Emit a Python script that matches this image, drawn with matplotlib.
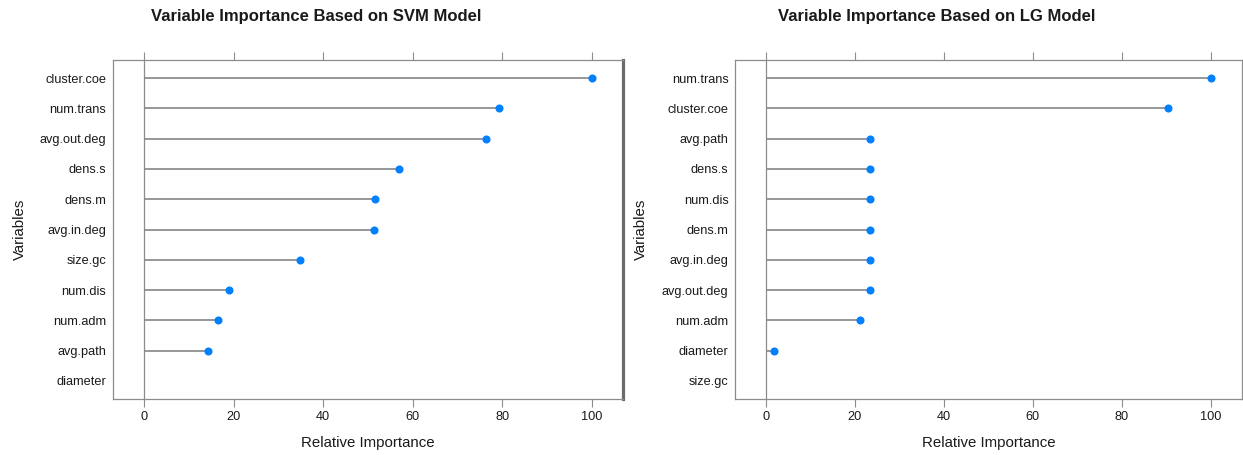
import numpy as np
import matplotlib
matplotlib.use("Agg")
import matplotlib.pyplot as plt

plt.rcParams['font.family'] = ['Liberation Sans', 'DejaVu Sans']

# Variable importance scores, listed top to bottom as displayed
svm_vars = ["cluster.coe", "num.trans", "avg.out.deg", "dens.s", "dens.m",
            "avg.in.deg", "size.gc", "num.dis", "num.adm", "avg.path", "diameter"]
svm_imp = [100.0, 79.2, 76.3, 56.9, 51.5, 51.3, 34.8, 19.0, 16.5, 14.3, np.nan]

lg_vars = ["num.trans", "cluster.coe", "avg.path", "dens.s", "num.dis", "dens.m",
           "avg.in.deg", "avg.out.deg", "num.adm", "diameter", "size.gc"]
lg_imp = [100.0, 90.4, 23.4, 23.4, 23.4, 23.4, 23.4, 23.4, 21.2, 1.9, np.nan]

x_ticks = [0, 20, 40, 60, 80, 100]

W, H = 1243, 455
fig = plt.figure(figsize=(W / 100, H / 100), dpi=100)

BOX = "#8c8c8c"
SEG = "#858585"
DOT = "#0080ff"
TXT = "#1a1a1a"


def px_axes(x0, x1, y0, y1):
    return fig.add_axes([x0 / W, 1 - y1 / H, (x1 - x0) / W, (y1 - y0) / H])


def dotplot(ax, names, values):
    n = len(names)
    ypos = np.arange(n, 0, -1)
    vals = np.asarray(values, dtype=float)
    ax.axvline(0, color=BOX, lw=0.9, zorder=1)
    for y, v in zip(ypos, vals):
        if np.isfinite(v):
            ax.plot([0, v], [y, y], color=SEG, lw=1.2, solid_capstyle="butt", zorder=2)
    ax.plot(vals, ypos, "o", color=DOT, ms=4.8, mec=DOT, zorder=3)
    ax.set_xlim(-7, 107)
    ax.set_ylim(0.4, n + 0.6)
    ax.set_yticks(ypos)
    ax.set_yticklabels(names)
    ax.set_xticks(x_ticks)
    ax.tick_params(axis="y", length=0, pad=4.5, labelsize=9.2, labelcolor=TXT)
    ax.tick_params(axis="x", which="both", direction="out", length=5.5, width=0.8,
                   color=BOX, top=True, bottom=True, labeltop=False,
                   labelsize=9.2, labelcolor=TXT, pad=3.5)
    for s in ax.spines.values():
        s.set_color(BOX)
        s.set_linewidth(0.9)


ax1 = px_axes(112.6, 623.4, 60, 399)
dotplot(ax1, svm_vars, svm_imp)
ax1.spines["right"].set_color("#6b6b6b")
ax1.spines["right"].set_linewidth(2.3)

ax2 = px_axes(734.8, 1242.0, 60, 399)
dotplot(ax2, lg_vars, lg_imp)

# Titles and axis labels
fig.text(151 / W, 1 - 17 / H, "Variable Importance Based on SVM Model",
         ha="left", va="center", fontsize=12, fontweight="bold", color=TXT)
fig.text(778 / W, 1 - 17 / H, "Variable Importance Based on LG Model",
         ha="left", va="center", fontsize=12, fontweight="bold", color=TXT)

for xc in ((112.6 + 623.4) / 2, (734.8 + 1243.2) / 2):
    fig.text(xc / W, 1 - 443 / H, "Relative Importance", ha="center", va="center",
             fontsize=10.8, color=TXT)
for xc in (20, 641):
    fig.text(xc / W, 1 - 229 / H, "Variables", ha="center", va="center",
             rotation=90, fontsize=10.8, color=TXT)

fig.savefig("out.png", dpi=100)
